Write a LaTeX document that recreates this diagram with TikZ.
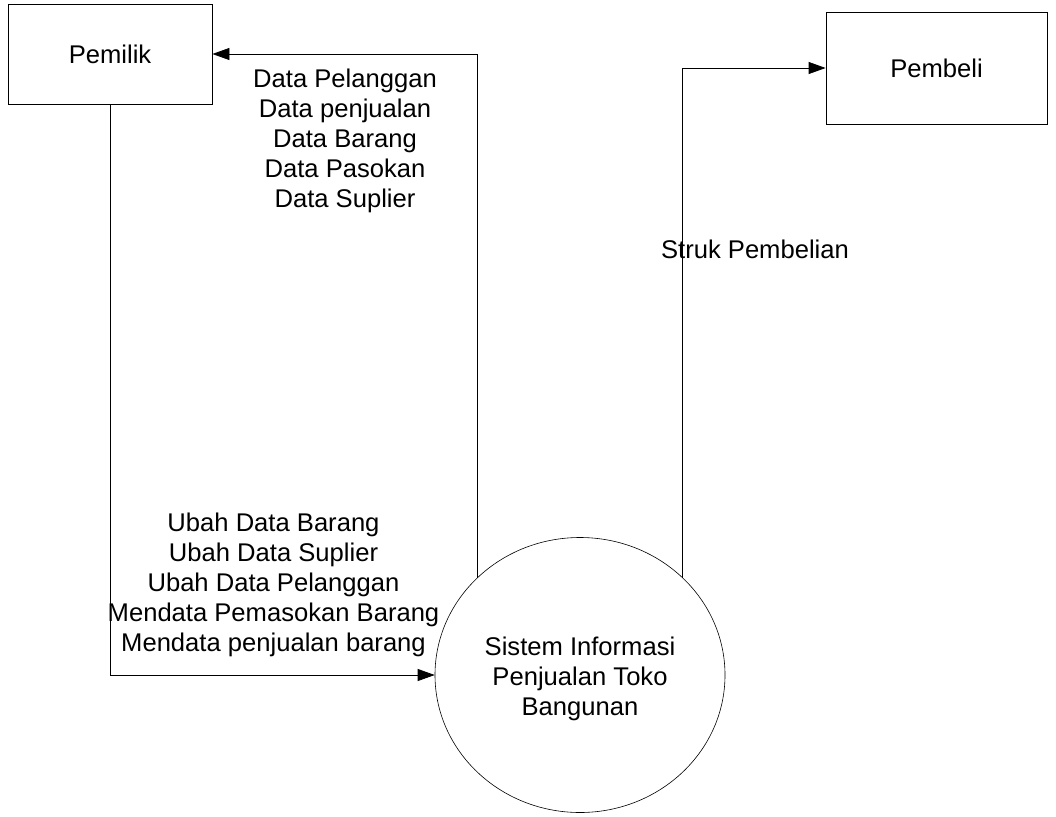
\documentclass[tikz,border=0pt]{standalone}
\usepackage{fontspec}
\setmainfont{Liberation Sans}
\usetikzlibrary{arrows.meta}
\usetikzlibrary{shapes.geometric}
\tikzset{entity/.style = {draw, line width = 0.8pt, inner sep = 0}}
\tikzset{flow/.style = {line width = 0.8pt, -{Triangle[length = 17pt, width = 12pt]}}}
\tikzset{lbl/.style = {align = center, inner sep = 0, font = \fontsize{25.6}{30}\selectfont}}

\begin{document}
\begin{tikzpicture}[x = 1pt, y = -1pt]
    \useasboundingbox (0, 0) rectangle (1056, 816);

    \node [entity, lbl, minimum width = 204pt, minimum height = 100pt] (pemilik) at (110, 54) {Pemilik};
    \node [entity, lbl, minimum width = 221pt, minimum height = 112pt] (pembeli) at (936.5, 68) {Pembeli};
    \node [draw, ellipse, line width = 0.6pt, minimum width = 290pt, minimum height = 275pt,
      label = {[lbl, yshift = -4pt]center:{Sistem Informasi\\Penjualan Toko\\Bangunan}}] (proses) at (580, 675) {};

    \draw [flow] (proses.north west) |- (pemilik.east);
    \draw [flow] (pemilik.south) |- (proses.west);
    \draw [flow] (proses.north east) |- (pembeli.west);

    \node [lbl] (laporan) at (345, 141) {Data Pelanggan\\Data penjualan\\Data Barang\\Data Pasokan\\Data Suplier};
    \node [lbl] (input) at (273.5, 585) {Ubah Data Barang\\Ubah Data Suplier\\Ubah Data Pelanggan\\Mendata Pemasokan Barang\\Mendata penjualan barang};
    \node [lbl] (struk) at (755, 249) {Struk Pembelian};
  \end{tikzpicture}
\end{document}
